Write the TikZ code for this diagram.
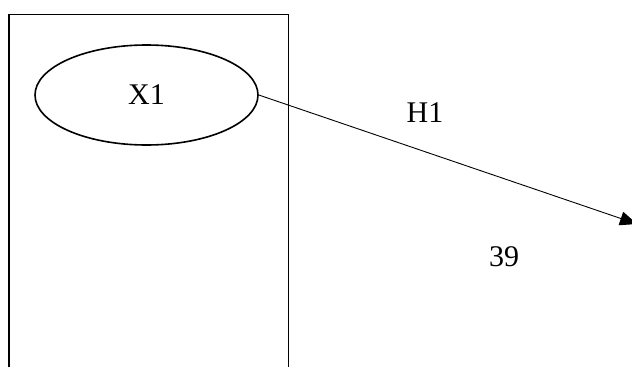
\documentclass[tikz,border=0pt]{standalone}
\usepackage{fontspec}
\setmainfont{Liberation Serif}
\usetikzlibrary{shapes.geometric,arrows.meta}
\begin{document}
\begin{tikzpicture}[x=1pt,y=-1pt,
  lbl/.style={font=\fontsize{30}{36}\selectfont, inner sep=0pt},
  oval/.style={draw, ellipse, line width=1.6pt, minimum width=223pt, minimum height=100pt, inner sep=0pt},
  conn/.style={line width=0.9pt, -{Triangle[length=17pt,width=14pt]}}]
\useasboundingbox (0,0) rectangle (632,367);
\clip (0,0) rectangle (632,367);
\draw[line width=1pt] (8.5,367) -- (8.5,14) -- (288,14) -- (288,367);
\draw[line width=2pt] (8.5,367) -- (8.5,14);
\node[oval] (x1) at (146.5,95) {};
\node[lbl] (x1t) at (146.5,95) {X1};
\coordinate (tip) at (637,224);
\draw[conn] (x1.east) -- (tip);
\node[lbl] (h1) at (425,113) {H1};
\node[lbl] (n39) at (504,257) {39};
\end{tikzpicture}
\end{document}
